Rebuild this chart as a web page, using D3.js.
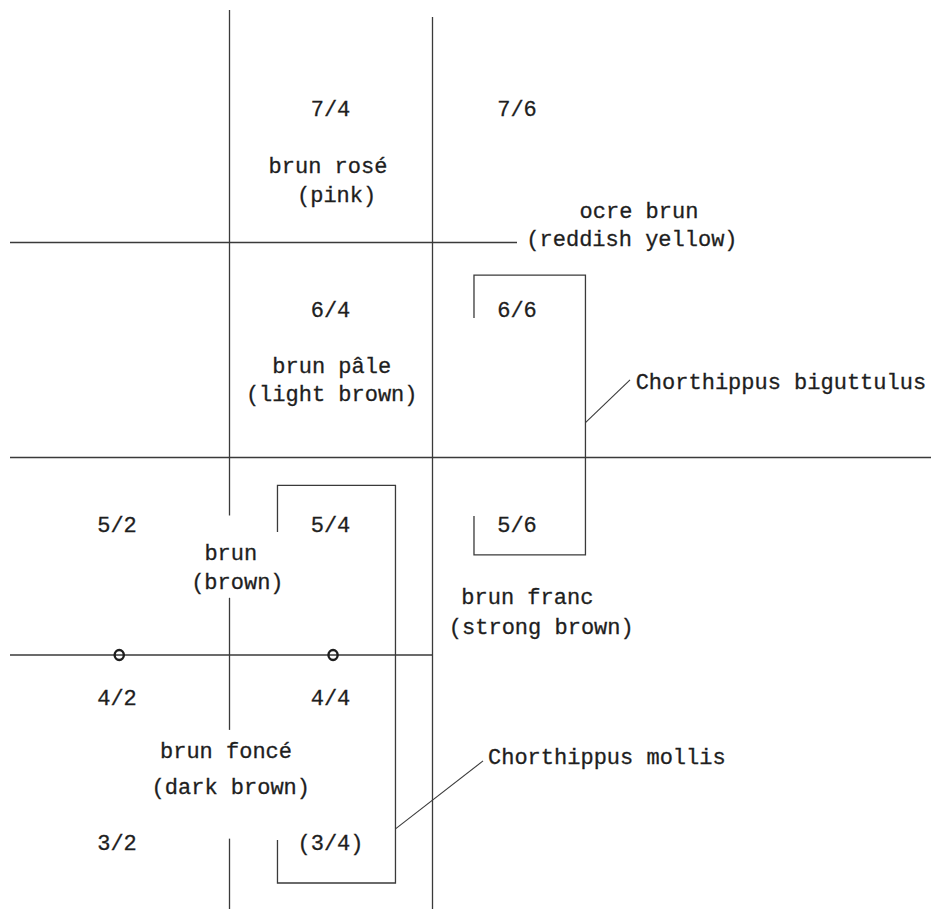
<!DOCTYPE html>
<html><head><meta charset="utf-8">
<script src="https://cdn.jsdelivr.net/npm/d3@7"></script>
<style>
body{margin:0;background:#fff}
svg{display:block}
text{font-family:"Liberation Mono","DejaVu Sans Mono",monospace;font-size:22px;fill:#1e1e1e;stroke:#1e1e1e;stroke-width:0.3px}
</style>
</head><body>
<svg id="chart" width="931" height="911"></svg>
<script>
// ---- Data (Munsell value / chroma chart, hue 7.5YR) ----
const chromaBreaks = [1, 2, 3, 4, 5, 6, 9];
const valueBreaks  = [8, 7, 6.5, 6, 5.5, 5, 4.5, 4, 3, 2.5];

const chipValues  = [7, 7, 6, 6, 5, 5, 5, 4, 4, 3, 3];
const chipChromas = [4, 6, 4, 6, 2, 4, 6, 2, 4, 2, 4];
const chipLabels  = ["7/4","7/6","6/4","6/6","5/2","5/4","5/6","4/2","4/4","3/2","(3/4)"];

// grid boundaries
const hLineValues = [6.5, 5.5, 4.5];
const hLineFrom   = [1, 1, 1];
const hLineTo     = [6, 9, 5];
const vLineChromas  = [3, 3, 3, 5];
const vLineTop      = [8, 4.72, 3.03, 7.93];
const vLineBottom   = [5.07, 3.78, 2.5, 2.5];

// markers ("o") on the 4.5 boundary
const markerChromas = [2.02, 4.025];
const markerValues  = [4.5, 4.5];

// colour names (French / English), anchors in chroma/value units
const nameTexts   = ["brun rosé","(pink)","ocre brun","(reddish yellow)","brun pâle","(light brown)",
                     "brun","(brown)","brun franc","(strong brown)","brun foncé","(dark brown)"];
const nameChromas = [3.975, 4.06, 6.884, 6.833, 4.012, 4.012, 3.013, 3.078, 6.075, 6.176, 2.969, 3.013];
const nameValues  = [6.783, 6.674, 6.614, 6.509, 5.807, 5.712, 4.888, 4.777, 4.719, 4.604, 3.628, 3.379];

// species ranges (brackets)
const speciesNames     = ["Chorthippus biguttulus", "Chorthippus mollis"];
const speciesChromaMin = [5.491, 3.475];
const speciesChromaMax = [6.496, 4.637];
const speciesValueMax  = [6.259, 5.293];
const speciesValueMin  = [4.885, 2.697];
const speciesStubTop   = [5.973, 4.973];
const speciesStubBot   = [5.067, 3.021];
const leaderFromValue  = [5.618, 3.097];
const leaderToChroma   = [6.819, 5.598];
const leaderToValue    = [5.763, 3.566];
const speciesLabelChroma = [6.86, 5.657];
const speciesLabelValue  = [5.753, 3.593];

// ---- Scales ----
const x = d3.scaleLinear().domain(chromaBreaks).range([10, 117, 229.5, 330.5, 432.5, 517, 931]);
const y = d3.scaleLinear().domain(valueBreaks).range([10, 109, 242.5, 310, 457.5, 525, 655, 698, 843, 909]);

const svg = d3.select("#chart");
const lineColor = "#3a3a3a";
const g = svg.append("g").attr("stroke", lineColor).attr("stroke-width", 1.3).attr("fill", "none");

// horizontal boundaries
g.selectAll("line.h").data(hLineValues).join("line").attr("class","h")
  .attr("x1", (d,i) => x(hLineFrom[i])).attr("x2", (d,i) => x(hLineTo[i]))
  .attr("y1", d => y(d)).attr("y2", d => y(d));

// vertical boundaries
g.selectAll("line.v").data(vLineChromas).join("line").attr("class","v")
  .attr("x1", d => x(d)).attr("x2", d => x(d))
  .attr("y1", (d,i) => y(vLineTop[i])).attr("y2", (d,i) => y(vLineBottom[i]));

// species brackets
speciesNames.forEach((n, i) => {
  const l = x(speciesChromaMin[i]), r = x(speciesChromaMax[i]);
  const t = y(speciesValueMax[i]), b = y(speciesValueMin[i]);
  g.append("path").attr("d",
    `M${l},${y(speciesStubTop[i])}V${t}H${r}V${b}H${l}V${y(speciesStubBot[i])}`);
  g.append("line")
    .attr("x1", r).attr("y1", y(leaderFromValue[i]))
    .attr("x2", x(leaderToChroma[i])).attr("y2", y(leaderToValue[i]))
    .attr("stroke-width", 1.1);
});

// markers
svg.selectAll("ellipse.m").data(markerChromas).join("ellipse").attr("class","m")
  .attr("cx", d => x(d)).attr("cy", (d,i) => y(markerValues[i]))
  .attr("rx", 4.6).attr("ry", 5.0)
  .attr("fill", "none").attr("stroke", "#1e1e1e").attr("stroke-width", 2.4);

// chip labels
svg.selectAll("text.chip").data(chipLabels).join("text").attr("class","chip")
  .attr("x", (d,i) => x(chipChromas[i])).attr("y", (d,i) => y(chipValues[i]))
  .attr("dy", "0.3em").attr("text-anchor", "middle").text(d => d);

// colour names
svg.selectAll("text.name").data(nameTexts).join("text").attr("class","name")
  .attr("x", (d,i) => x(nameChromas[i])).attr("y", (d,i) => y(nameValues[i]))
  .attr("dy", "0.28em").attr("text-anchor", "middle").text(d => d);

// species labels
svg.selectAll("text.sp").data(speciesNames).join("text").attr("class","sp")
  .attr("x", (d,i) => x(speciesLabelChroma[i])).attr("y", (d,i) => y(speciesLabelValue[i]))
  .attr("dy", "0.3em").attr("text-anchor", "start").text(d => d);
</script>
</body></html>
